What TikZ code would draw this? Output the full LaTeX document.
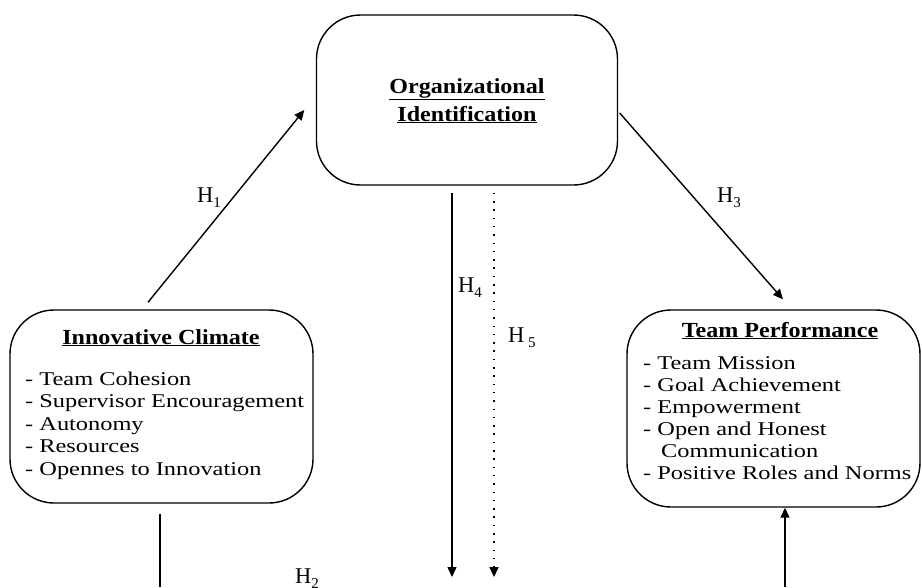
\documentclass[tikz,border=0pt]{standalone}
\usepackage{fontspec}
\setmainfont{Liberation Serif}
\newfontfamily\listfont{Liberation Serif}[FakeStretch=1.25]
\newfontfamily\titlefont{Liberation Serif}[FakeStretch=1.12]
\usetikzlibrary{arrows.meta,calc}
\newcommand\hsub[1]{\raisebox{-5pt}{\fontsize{15}{16}\selectfont #1}}
\begin{document}
\begin{tikzpicture}[x=1pt,y=-1pt,
  box/.style={draw, line width=1.4pt, rounded corners=44pt, inner sep=0pt},
  ttl/.style={font=\titlefont\bfseries\fontsize{21.5}{25}\selectfont, inner sep=0pt, anchor=base},
  itm/.style={font=\listfont\fontsize{19.5}{22}\selectfont, inner sep=0pt, anchor=base west},
  hl/.style={font=\fontsize{22.5}{25}\selectfont, inner sep=0pt, anchor=base west},
  arr/.style={line width=1.4pt, -{Triangle[length=10pt,width=9pt]}},
  ln/.style={line width=1.4pt}]
\useasboundingbox (0,0) rectangle (922,587);

% boxes
\node[box, minimum width=301pt, minimum height=170pt] (oi) at (467,100) {};
\node[box, minimum width=303pt, minimum height=193pt] (ic) at (161.5,406.5) {};
\node[box, minimum width=293pt, minimum height=197pt] (tp) at (773.5,408.5) {};

% titles
\node[ttl] (oit1) at (467,93) {\underline{Organizational}};
\node[ttl] (oit2) at (467,121) {\underline{Identification}};
\node[ttl] (ict) at (161,344) {\underline{Innovative Climate}};
\node[ttl] (tpt) at (780,337) {\underline{Team Performance}};

% lists
\foreach \t [count=\i] in {- Team Cohesion,- Supervisor Encouragement,- Autonomy,- Resources,- Opennes to Innovation}
  \node[itm] (ic\i) at (25,{385+22.5*(\i-1)}) {\t};
\foreach \t [count=\i] in {- Team Mission,- Goal Achievement,- Empowerment,- Open and Honest}
  \node[itm] (tp\i) at (643,{369+22*(\i-1)}) {\t};
\node[itm] (tp5) at (661,457) {Communication};
\node[itm] (tp6) at (643,479) {- Positive Roles and Norms};

% free ends
\coordinate (h4end) at (452,577);
\coordinate (h5end) at (494,577);
\coordinate (icbot) at (160,587);
\coordinate (tpbot) at (785,587);

% connectors
\draw[arr] ($(ic.north)+(-13.5,-7)$) -- ($(oi.west)+(-11.5,10)$);
\draw[arr] ($(oi.east)+(1.5,13)$) -- ($(tp.north)+(9.5,-10)$);
\draw[arr] ($(oi.south)+(-15,7)$) -- (h4end);
\draw[arr, line width=1.6pt, dash pattern=on 1.5pt off 6.8pt] ($(oi.south)+(27,7)$) -- (h5end);
\draw[ln] ($(ic.south)+(-1.5,10)$) -- (icbot);
\draw[arr] (tpbot) -- ($(tp.south)+(11.5,0)$);

% labels
\node[hl] (h1) at (197,202) {H\hsub{1}};
\node[hl] (h3) at (717,202) {H\hsub{3}};
\node[hl] (h4) at (458,292) {H\hsub{4}};
\node[hl] (h5) at (508,342) {H\,\hsub{5}};
\node[hl] (h2) at (295,583) {H\hsub{2}};
\end{tikzpicture}
\end{document}
